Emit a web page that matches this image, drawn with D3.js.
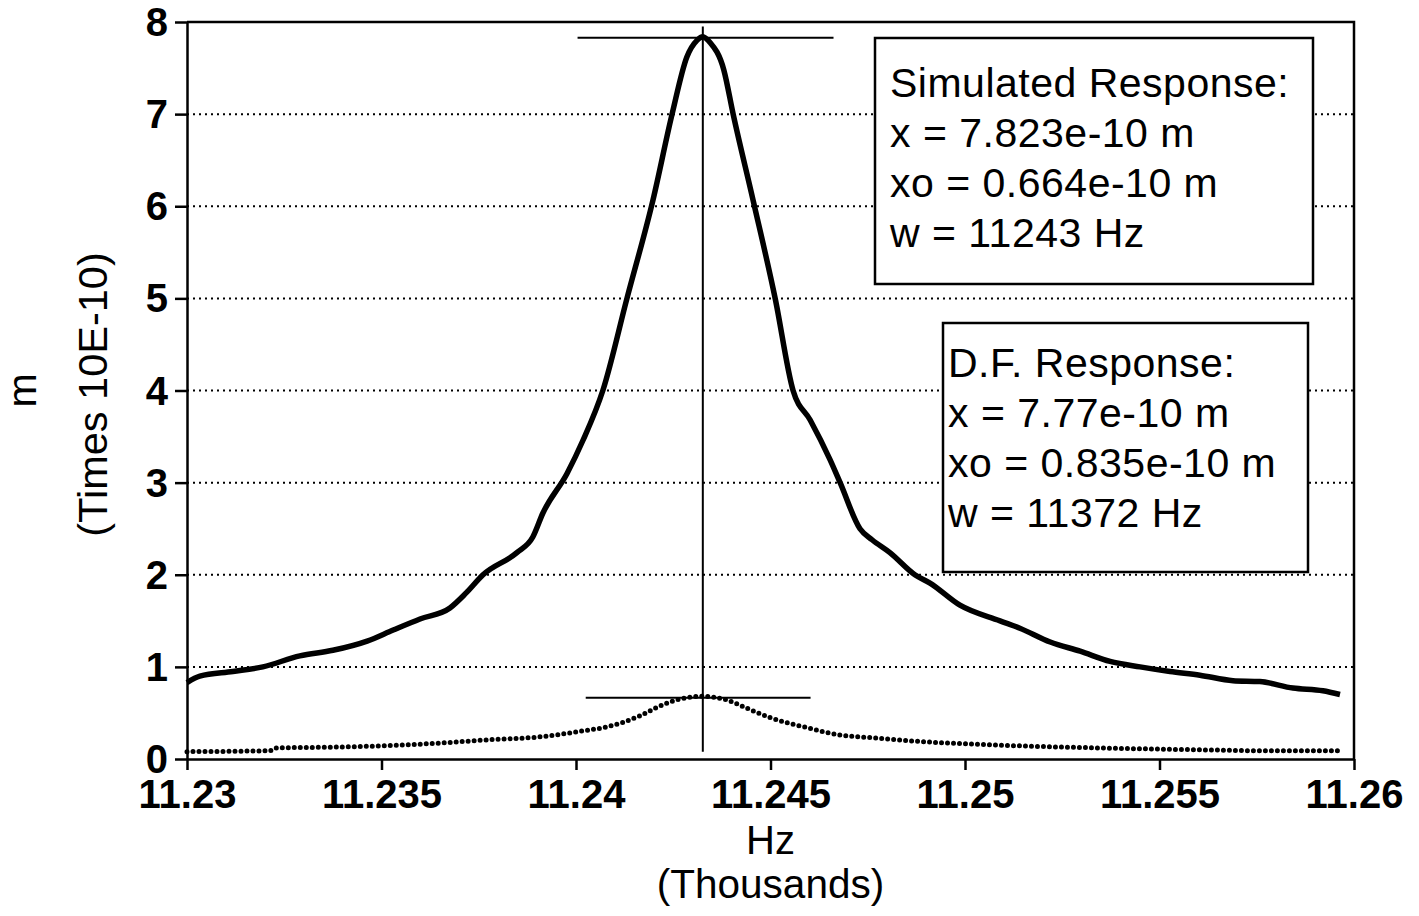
<!DOCTYPE html>
<html>
<head>
<meta charset="utf-8">
<script src="https://cdn.jsdelivr.net/npm/d3@7"></script>
<style>
    body { margin: 0; background: #fff; }
    svg { display: block; font-family: "Liberation Sans", Arial, Helvetica, sans-serif; }
    .tick text { font-weight: bold; }
</style>
</head>
<body>
<svg id="chart"></svg>
<script>
// frequency in thousands of Hz, amplitude in units of 1e-10 m
const simFreq = [11.23000, 11.23033, 11.23118, 11.23195, 11.23290, 11.23375, 11.23463, 11.23530,
    11.23599, 11.23676, 11.23717, 11.23761, 11.23848, 11.23889, 11.23915, 11.23977, 11.24018, 11.24069,
    11.24131, 11.24198, 11.24247, 11.24285, 11.24311, 11.24326, 11.24344, 11.24380, 11.24404,
    11.24455, 11.24512, 11.24558, 11.24602, 11.24653, 11.24679, 11.24730, 11.24761, 11.24807,
    11.24871, 11.24910, 11.24987, 11.25090, 11.25141, 11.25219, 11.25296, 11.25373, 11.25450,
    11.25527, 11.25604, 11.25689, 11.25758, 11.25843, 11.25920, 11.25964];
const simAmp = [0.83, 0.90, 0.95, 1.00, 1.12, 1.18, 1.28, 1.40,
    1.52, 1.64, 1.80, 2.00, 2.24, 2.41, 2.67, 3.10, 3.46, 4.00,
    5.00, 6.07, 7.00, 7.62, 7.80, 7.84, 7.78, 7.48, 7.00,
    6.07, 5.00, 4.00, 3.68, 3.25, 3.00, 2.50, 2.38, 2.24,
    2.00, 1.91, 1.67, 1.50, 1.42, 1.27, 1.17, 1.06, 1.00,
    0.95, 0.91, 0.85, 0.84, 0.77, 0.74, 0.70];

const dfFreq = [11.23000, 11.23213, 11.23226, 11.23393, 11.23548, 11.23676, 11.23779, 11.23907,
    11.24010, 11.24080, 11.24165, 11.24208, 11.24267, 11.24326, 11.24388, 11.24440, 11.24499,
    11.24594, 11.24679, 11.24764, 11.24884, 11.25090, 11.25347, 11.25604, 11.25758, 11.25964];
const dfAmp = [0.08, 0.09, 0.12, 0.13, 0.15, 0.18, 0.21, 0.24,
    0.30, 0.35, 0.47, 0.56, 0.65, 0.68, 0.64, 0.55, 0.45,
    0.34, 0.26, 0.23, 0.19, 0.15, 0.12, 0.10, 0.09, 0.09];

const xTicks = [11.23, 11.235, 11.24, 11.245, 11.25, 11.255, 11.26];
const yTicks = [0, 1, 2, 3, 4, 5, 6, 7, 8];

// peak markers: resonance freq, peak height and base level
const peakFreq = 11.24326;
const peakSpan = [11.24004, 11.24662];
const peakLevel = 7.83;
const baseSpan = [11.24025, 11.24603];
const baseLevel = 0.664;
const markerRange = [0.08, 7.95];

const simText = ["Simulated Response:", "x = 7.823e-10 m", "xo = 0.664e-10 m", "w = 11243 Hz"];
const dfText = ["D.F. Response:", "x = 7.77e-10 m", "xo = 0.835e-10 m", "w = 11372 Hz"];

const W = 1419, H = 916;
const margin = { top: 22, right: 65, bottom: 157, left: 187 };
const iw = W - margin.left - margin.right;
const ih = H - margin.top - margin.bottom;

const svg = d3.select("#chart").attr("width", W).attr("height", H);
const g = svg.append("g").attr("transform", `translate(${margin.left},${margin.top})`);

const x = d3.scaleLinear().domain([11.23, 11.26]).range([0, iw]);
const y = d3.scaleLinear().domain([0, 8]).range([ih, 0]);

// dotted gridlines
g.append("g")
    .selectAll("line")
    .data(yTicks.filter(d => d > 0 && d < 8))
    .enter().append("line")
    .attr("x1", 0).attr("x2", iw)
    .attr("y1", d => y(d)).attr("y2", d => y(d))
    .attr("stroke", "#000")
    .attr("stroke-width", 2)
    .attr("stroke-dasharray", "2,4");

// frame (top and right)
g.append("path")
    .attr("d", `M0,0 H${iw} V${ih}`)
    .attr("fill", "none")
    .attr("stroke", "#000")
    .attr("stroke-width", 2.5);

// axes
const yAxis = g.append("g")
    .call(d3.axisLeft(y).tickValues(yTicks).tickSize(12).tickPadding(7).tickSizeOuter(0));
const xAxis = g.append("g")
    .attr("transform", `translate(0,${ih})`)
    .call(d3.axisBottom(x).tickValues(xTicks).tickSize(11).tickPadding(10).tickSizeOuter(0)
        .tickFormat(d => String(+d.toFixed(3))));

[xAxis, yAxis].forEach(a => {
    a.select(".domain").attr("stroke-width", 2.5);
    a.selectAll(".tick line").attr("stroke-width", 2.5);
    a.selectAll(".tick text").attr("font-size", 40).attr("fill", "#000");
});
yAxis.selectAll(".tick text").attr("dy", "0.34em");

// series
const line = d3.line()
    .x(d => x(d[0]))
    .y(d => y(d[1]))
    .curve(d3.curveMonotoneX);

g.append("path")
    .datum(d3.zip(dfFreq, dfAmp))
    .attr("d", line)
    .attr("fill", "none")
    .attr("stroke", "#000")
    .attr("stroke-width", 5)
    .attr("stroke-linecap", "round")
    .attr("stroke-dasharray", "0,6");

g.append("path")
    .datum(d3.zip(simFreq, simAmp))
    .attr("d", line)
    .attr("fill", "none")
    .attr("stroke", "#000")
    .attr("stroke-width", 5.5)
    .attr("stroke-linejoin", "round");

// peak markers
const marks = g.append("g").attr("stroke", "#000").attr("stroke-width", 2);
marks.append("line")
    .attr("x1", x(peakFreq)).attr("x2", x(peakFreq))
    .attr("y1", y(markerRange[0])).attr("y2", y(markerRange[1]));
marks.append("line")
    .attr("x1", x(peakSpan[0])).attr("x2", x(peakSpan[1]))
    .attr("y1", y(peakLevel)).attr("y2", y(peakLevel));
marks.append("line")
    .attr("x1", x(baseSpan[0])).attr("x2", x(baseSpan[1]))
    .attr("y1", y(baseLevel)).attr("y2", y(baseLevel));

// text boxes
function textBox(lines, bx, by, bw, bh, tx, ty0) {
    const b = svg.append("g");
    b.append("rect")
        .attr("x", bx).attr("y", by).attr("width", bw).attr("height", bh)
        .attr("fill", "#fff").attr("stroke", "#000").attr("stroke-width", 2.5);
    b.selectAll("text")
        .data(lines)
        .enter().append("text")
        .attr("x", tx)
        .attr("y", (d, i) => ty0 + i * 50)
        .attr("font-size", 41)
        .attr("letter-spacing", 0.5)
        .attr("fill", "#000")
        .text(d => d);
}
textBox(simText, 875, 38, 438, 246, 890, 97);
textBox(dfText, 943, 323, 365, 249, 948, 377);

// axis titles
svg.append("text")
    .attr("x", margin.left + iw / 2).attr("y", 854)
    .attr("text-anchor", "middle").attr("font-size", 40)
    .text("Hz");
svg.append("text")
    .attr("x", margin.left + iw / 2).attr("y", 898)
    .attr("text-anchor", "middle").attr("font-size", 40.5)
    .text("(Thousands)");
svg.append("text")
    .attr("transform", `translate(36,${margin.top + ih / 2}) rotate(-90)`)
    .attr("text-anchor", "middle").attr("font-size", 41)
    .text("m");
svg.append("text")
    .attr("transform", `translate(107,${margin.top + ih / 2 + 4}) rotate(-90)`)
    .attr("text-anchor", "middle").attr("font-size", 41.5)
    .text("(Times 10E-10)");
</script>
</body>
</html>
